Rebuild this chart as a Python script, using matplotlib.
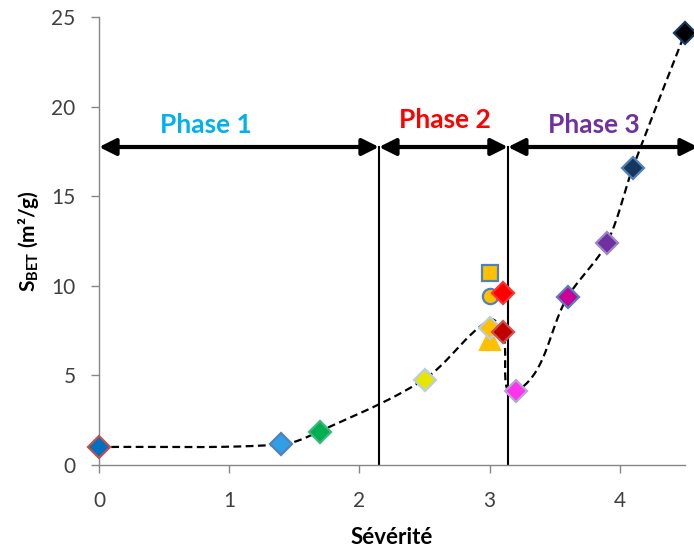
#!/usr/bin/env python3
"""BET surface area versus severity, with the three degradation phases."""

import numpy as np
import matplotlib.pyplot as plt

plt.rcParams.update({
    "font.family": ["Lato", "DejaVu Sans"],
    "mathtext.fontset": "custom",
    "mathtext.rm": "Lato",
    "mathtext.bf": "Lato:bold",
})

# individual samples: severity, S_BET, marker, face colour, edge colour
sev = [0.0, 1.4, 1.7, 2.5, 3.0, 3.0, 3.1, 3.0, 3.0, 3.1, 3.2, 3.6, 3.9, 4.1, 4.5]
sbet = [1.0, 1.2, 1.85, 4.75, 10.7, 9.45, 9.6, 7.0, 7.65, 7.4, 4.15, 9.4, 12.4, 16.6, 24.1]
shapes = ["D", "D", "D", "D", "s", "o", "D", "^", "D", "D", "D", "D", "D", "D", "D"]
faces = ["#0070C0", "#2FA0E6", "#00B050", "#E6E600", "#FFC000", "#FFC000", "#FF0000",
         "#FFC000", "#FFC000", "#C00000", "#FF33EE", "#CC0099", "#7030A0", "#17375E", "#000000"]
edges = ["#C0504D", "#4F81BD", "#3CB878", "#B9CDE5", "#4F81BD", "#4F81BD", "#FF3030",
         "#FFC000", "#B9CDE5", "#D05050", "#B4A7D6", "#4F81BD", "#9A86C8", "#4F81BD", "#17375E"]

# points of the smoothed trend line
trend_x = [0.0, 1.4, 1.7, 2.5, 3.0, 3.1, 3.2, 3.6, 3.9, 4.1, 4.5]
trend_y = [1.0, 1.15, 1.9, 4.8, 8.1, 7.4, 4.1, 9.4, 12.4, 16.6, 24.1]

# phase limits on the severity axis and arrow level
bounds = [0.0, 2.15, 3.14, 4.6]
phase_y = 17.75
phase_names = ["Phase 1", "Phase 2", "Phase 3"]
phase_colors = ["#00B0F0", "#FF0000", "#7030A0"]
phase_text_x = [0.82, 2.66, 3.8]
phase_text_y = [19.0, 19.25, 19.0]


def smooth(ax, x, y, n=40, k=1.0):
    """Bezier curve through the points, handles sized per segment in screen space."""
    p = ax.transData.transform(np.column_stack([x, y]))
    m = len(p)
    tang = []
    for i in range(m):
        a = p[i - 1] if i > 0 else p[i]
        b = p[i + 1] if i + 1 < m else p[i]
        d = b - a
        tang.append(d / np.hypot(*d))
    t = np.linspace(0, 1, n)[:, None]
    out = []
    for i in range(m - 1):
        p0, p3 = p[i], p[i + 1]
        L = np.hypot(*(p3 - p0)) / 3 * k
        p1 = p0 + tang[i] * L
        p2 = p3 - tang[i + 1] * L
        seg = (1 - t) ** 3 * p0 + 3 * (1 - t) ** 2 * t * p1 + 3 * (1 - t) * t ** 2 * p2 + t ** 3 * p3
        out.append(seg if i == 0 else seg[1:])
    out = ax.transData.inverted().transform(np.vstack(out))
    return out[:, 0], out[:, 1]


fig = plt.figure(figsize=(6.94, 5.52), dpi=100)
ax = fig.add_axes([0.1427, 0.1576, 0.8443, 0.8114])
ax.set_xlim(0, 4.5)
ax.set_ylim(0, 25)

cx, cy = smooth(ax, trend_x, trend_y)
ax.plot(cx, cy, color="black", lw=1.6, dashes=(3.5, 2), zorder=2)

sizes = {"D": 11, "s": 11.5, "o": 11, "^": 14}
for x, y, m, fc, ec in zip(sev, sbet, shapes, faces, edges):
    ax.plot(x, y, marker=m, ms=sizes[m], mfc=fc, mec=ec, mew=1.6,
            linestyle="none", zorder=3, clip_on=False)

for b in bounds[1:3]:
    ax.plot([b, b], [0, phase_y], color="black", lw=1.5, zorder=1)

for i in range(3):
    ax.annotate("", xy=(bounds[i + 1], phase_y), xytext=(bounds[i], phase_y),
                arrowprops=dict(arrowstyle="<|-|>,head_length=1.0,head_width=0.5",
                                color="black", lw=3, shrinkA=0, shrinkB=0),
                annotation_clip=False, zorder=4)
    ax.text(phase_text_x[i], phase_text_y[i], phase_names[i], color=phase_colors[i],
            fontsize=19, fontweight="bold", ha="center", va="center")

ax.set_xticks([0, 1, 2, 3, 4])
ax.set_yticks([0, 5, 10, 15, 20, 25])
for s in ["top", "right"]:
    ax.spines[s].set_visible(False)
for s in ["left", "bottom"]:
    ax.spines[s].set_color("#868686")
    ax.spines[s].set_linewidth(1.0)
ax.tick_params(colors="#868686", labelcolor="#404040", labelsize=15, length=6, width=1.0)
ax.tick_params(axis="x", pad=13)
ax.tick_params(axis="y", pad=11)

ax.set_xlabel("Sévérité", fontsize=16, fontweight="bold", labelpad=11)
ax.set_ylabel(r"$\mathbf{S_{BET}}$ (m²/g)", fontsize=15, fontweight="bold", labelpad=7)

fig.savefig("out.png", dpi=100)
